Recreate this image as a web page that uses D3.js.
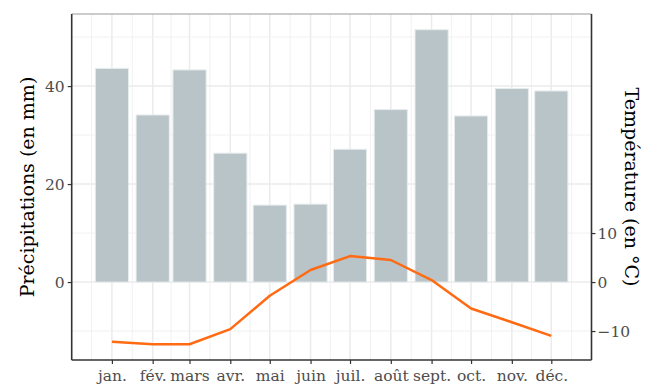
<!DOCTYPE html>
<html><head><meta charset="utf-8">
<script src="https://cdn.jsdelivr.net/npm/d3@7"></script>
<style>body{margin:0;background:#fff}svg{display:block}</style>
</head><body>
<svg id="c" width="646" height="385"></svg>
<script>
const months = ["jan.","fév.","mars","avr.","mai","juin","juil.","août","sept.","oct.","nov.","déc."];
const precipitation = [43.6, 34.1, 43.3, 26.3, 15.7, 15.9, 27.1, 35.2, 51.5, 33.9, 39.5, 39.0];
const temperature = [-12.2, -12.7, -12.7, -9.6, -2.8, 2.45, 5.3, 4.5, 0.4, -5.4, -8.2, -11.0];
const leftTicks = [0, 20, 40];
const rightTicks = [-10, 0, 10];

const svg = d3.select("#c");
const L = 71.7, R = 591.5, T = 14, B = 360;
const DAY = 864e5;
const dates = months.map((m,i)=> new Date(2021, i, 1));
const halfBar = 12.6*DAY;
const x0 = dates[0].getTime() - halfBar, x1 = dates[11].getTime() + halfBar;
const xpad = (x1-x0)*0.05;
const x = d3.scaleTime().domain([new Date(x0-xpad), new Date(x1+xpad)]).range([L, R]);
const ymin = Math.min(0, d3.min(temperature)), ymax = d3.max(precipitation);
const ypad = (ymax-ymin)*0.05;
const y = d3.scaleLinear().domain([ymin-ypad, ymax+ypad]).range([B, T]);

// grid
const g = svg.append("g");
const minorX = [];
const ext = [new Date(2020,11,1), ...dates, new Date(2022,0,1)];
for (let i=0;i<ext.length-1;i++){ const m = new Date((ext[i].getTime()+ext[i+1].getTime())/2); if (x(m)>L && x(m)<R) minorX.push(m); }
g.selectAll(".vmin").data(minorX).join("line").attr("x1",d=>x(d)).attr("x2",d=>x(d)).attr("y1",T).attr("y2",B).attr("stroke","#f1f1f1").attr("stroke-width",1);
g.selectAll(".vmaj").data(dates).join("line").attr("x1",d=>x(d)).attr("x2",d=>x(d)).attr("y1",T).attr("y2",B).attr("stroke","#ebebeb").attr("stroke-width",1.5);
const hmin = [-10,10,30,50];
g.selectAll(".hmin").data(hmin).join("line").attr("x1",L).attr("x2",R).attr("y1",d=>y(d)).attr("y2",d=>y(d)).attr("stroke","#f1f1f1").attr("stroke-width",1);
g.selectAll(".hmaj").data(leftTicks).join("line").attr("x1",L).attr("x2",R).attr("y1",d=>y(d)).attr("y2",d=>y(d)).attr("stroke","#ebebeb").attr("stroke-width",1.5);

// bars
svg.append("g").selectAll("rect").data(precipitation).join("rect")
  .attr("x",(d,i)=>x(new Date(dates[i].getTime()-halfBar)))
  .attr("width",(d,i)=>x(new Date(dates[i].getTime()+halfBar))-x(new Date(dates[i].getTime()-halfBar)))
  .attr("y",d=>y(d)).attr("height",d=>y(0)-y(d))
  .attr("fill","#b8c4c8").attr("stroke","#e6ebec").attr("stroke-width",1);

// line
svg.append("path").datum(temperature)
  .attr("d", d3.line().x((d,i)=>x(dates[i])).y(d=>y(d)))
  .attr("fill","none").attr("stroke","#ff6a13").attr("stroke-width",2.5).attr("stroke-linejoin","round");

// border
svg.append("line").attr("x1",L).attr("x2",R).attr("y1",T).attr("y2",T).attr("stroke","#999").attr("stroke-width",1.2);
const font = "'DejaVu Serif', serif";
// axes
const ax = d3.axisBottom(x).tickValues(dates).tickFormat((d,i)=>months[i]).tickSize(4).tickSizeOuter(0);
const axB = svg.append("g").attr("transform",`translate(0,${B})`).call(ax);
const ayL = svg.append("g").attr("transform",`translate(${L},0)`).call(d3.axisLeft(y).tickValues(leftTicks).tickSize(4).tickSizeOuter(0));
const ayR = svg.append("g").attr("transform",`translate(${R},0)`).call(d3.axisRight(y).tickValues(rightTicks).tickSize(4).tickSizeOuter(0));
[axB,ayL,ayR].forEach(a=>{
  a.select(".domain").attr("stroke","#333").attr("stroke-width",1.6);
  a.selectAll(".tick line").attr("stroke","#333").attr("stroke-width",1.2);
  a.selectAll(".tick text").attr("fill","#4d4d4d").style("font-family",font).style("font-size","15.5px");
});
ayL.select(".domain").attr("d",`M0,${T}V${B}`);
ayR.select(".domain").attr("d",`M0,${T}V${B}`);
axB.select(".domain").attr("d",`M${L},0H${R}`);
axB.selectAll(".tick text").attr("dy","0.95em").attr("y",6);
ayL.selectAll(".tick text").attr("x",-7);
ayR.selectAll(".tick text").attr("x",6);

// titles
svg.append("text").attr("transform",`translate(27,${(T+B)/2}) rotate(-90)`).attr("text-anchor","middle").attr("dy","0.35em")
  .style("font-family",font).style("font-size","19px").attr("fill","#000").text("Précipitations (en mm)");
svg.append("text").attr("transform",`translate(632,${(T+B)/2}) rotate(90)`).attr("text-anchor","middle").attr("dy","0.35em")
  .style("font-family",font).style("font-size","19px").attr("fill","#000").text("Température (en °C)");
</script>
</body></html>
